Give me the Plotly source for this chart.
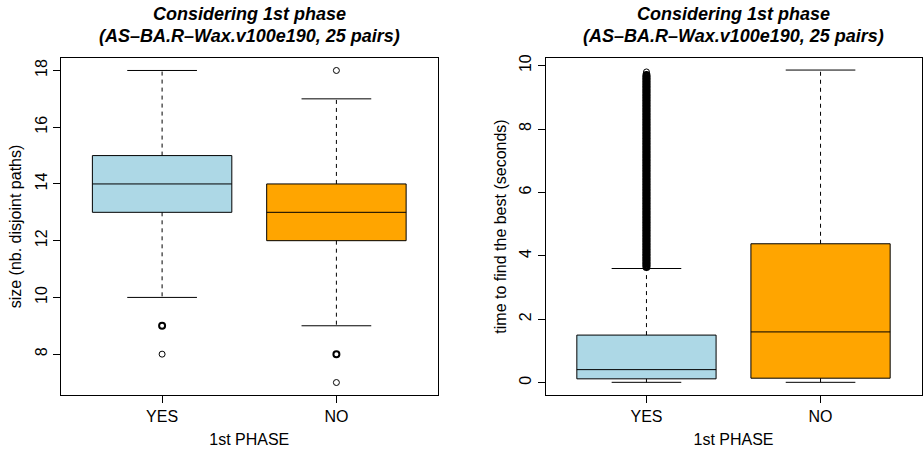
import plotly.graph_objects as go
from collections import Counter

# ---------------- data ----------------
categories = ["YES", "NO"]
positions = [1, 2]
colors = ["#ADD8E6", "#FFA500"]

# Left panel: size (nb. disjoint paths)
size_q1 = [13, 12]
size_median = [14, 13]
size_q3 = [15, 14]
size_low = [10, 9]
size_high = [18, 17]
size_out_yes = [9, 9, 9, 9, 8]
size_out_no = [18, 8, 8, 8, 8, 7]

# Right panel: time to find the best (seconds)
time_q1 = [0.12, 0.14]
time_median = [0.41, 1.60]
time_q3 = [1.50, 4.38]
time_low = [0.01, 0.01]
time_high = [3.60, 9.86]
time_out_yes = [3.65, 3.70, 3.75, 3.80, 3.85, 3.90, 3.95, 4.00, 4.05, 4.10, 4.15, 4.20,
                4.25, 4.30, 4.35, 4.40, 4.45, 4.50, 4.55, 4.60, 4.65, 4.70, 4.75, 4.80,
                4.85, 4.90, 4.95, 5.00, 5.05, 5.10, 5.15, 5.20, 5.25, 5.30, 5.35, 5.40,
                5.45, 5.50, 5.55, 5.60, 5.65, 5.70, 5.75, 5.80, 5.85, 5.90, 5.95, 6.00,
                6.05, 6.10, 6.15, 6.20, 6.25, 6.30, 6.35, 6.40, 6.45, 6.50, 6.55, 6.60,
                6.65, 6.70, 6.75, 6.80, 6.85, 6.90, 6.95, 7.00, 7.05, 7.10, 7.15, 7.20,
                7.25, 7.30, 7.35, 7.40, 7.45, 7.50, 7.55, 7.60, 7.65, 7.70, 7.75, 7.80,
                7.85, 7.90, 7.95, 8.00, 8.05, 8.10, 8.15, 8.20, 8.25, 8.30, 8.35, 8.40,
                8.45, 8.50, 8.55, 8.60, 8.65, 8.70, 8.75, 8.80, 8.85, 8.90, 8.95, 9.00,
                9.05, 9.10, 9.15, 9.20, 9.25, 9.30, 9.35, 9.40, 9.45, 9.50, 9.55, 9.60,
                9.65, 9.70, 9.80]
time_out_no = []

title_line1 = "Considering 1st phase"
title_line2 = "(AS\u2013BA.R\u2013Wax.v100e190, 25 pairs)"
x_title = "1st PHASE"
y_title_left = "size (nb. disjoint paths)"
y_title_right = "time to find the best (seconds)"
size_ticks = [8, 10, 12, 14, 16, 18]
time_ticks = [0, 2, 4, 6, 8, 10]

# ---------------- styling ----------------
FONT = "Liberation Sans, Arial, Helvetica, sans-serif"
BOX_W = 0.8
CAP_W = 0.4

fig = go.Figure()


def add_panel(xa, ya, q1, med, q3, low, high, outs, dense_gap):
    xref = "x" if xa == 1 else "x%d" % xa
    yref = "y" if ya == 1 else "y%d" % ya
    # dashed whiskers
    wx, wy = [], []
    cx, cy = [], []
    for p, a, b, lo, hi in zip(positions, q1, q3, low, high):
        wx += [p, p, None, p, p, None]
        wy += [b, hi, None, a, lo, None]
        cx += [p - CAP_W / 2, p + CAP_W / 2, None, p - CAP_W / 2, p + CAP_W / 2, None]
        cy += [hi, hi, None, lo, lo, None]
    fig.add_trace(go.Scatter(x=wx, y=wy, mode="lines", xaxis=xref, yaxis=yref,
                             line=dict(color="black", width=1, dash="4px,4px"),
                             hoverinfo="skip", showlegend=False))
    fig.add_trace(go.Scatter(x=cx, y=cy, mode="lines", xaxis=xref, yaxis=yref,
                             line=dict(color="black", width=1),
                             hoverinfo="skip", showlegend=False))
    # boxes
    for i, p in enumerate(positions):
        fig.add_trace(go.Box(x=[p], q1=[q1[i]], median=[med[i]], q3=[q3[i]],
                             lowerfence=[q1[i]], upperfence=[q3[i]],
                             width=BOX_W, whiskerwidth=0,
                             fillcolor=colors[i], line=dict(color="black", width=1),
                             boxpoints=False, xaxis=xref, yaxis=yref,
                             hoverinfo="skip", showlegend=False))
    # outliers (repeated / densely packed values drawn heavier, as overplotting does)
    for p, vals in zip(positions, outs):
        if not vals:
            continue
        cnt = Counter(vals)
        ys = sorted(cnt.keys())
        widths = []
        for j, v in enumerate(ys):
            near = [abs(v - ys[k]) for k in (j - 1, j + 1) if 0 <= k < len(ys)]
            dense = bool(near) and min(near) <= dense_gap
            widths.append(2.0 if (cnt[v] > 1 or dense) else 1.0)
        fig.add_trace(go.Scatter(x=[p] * len(ys), y=ys, mode="markers",
                                 xaxis=xref, yaxis=yref,
                                 marker=dict(symbol="circle-open", size=6, color="black",
                                             line=dict(width=widths, color="black")),
                                 hoverinfo="skip", showlegend=False))


add_panel(1, 1, size_q1, size_median, size_q3, size_low, size_high,
          [size_out_yes, size_out_no], 0.0)
add_panel(2, 2, time_q1, time_median, time_q3, time_low, time_high,
          [time_out_yes, time_out_no], 0.06)

W, H = 923, 450
x1_dom = [61 / W, 437.5 / W]
x2_dom = [545.5 / W, 921.5 / W]
y_dom = [(H - 395) / H, (H - 58) / H]

common_x = dict(range=[0.42, 2.58], tickvals=positions, ticktext=categories,
                ticks="outside", ticklen=7, tickcolor="black", showline=True,
                mirror=True, linecolor="black", linewidth=1, showgrid=False,
                zeroline=False, automargin=False,
                tickfont=dict(family=FONT, size=16, color="black"),
                title=dict(text=x_title, font=dict(family=FONT, size=16, color="black"),
                           standoff=9))
common_y = dict(ticks="outside", ticklen=7, tickcolor="black", showline=True,
                mirror=True, linecolor="black", linewidth=1, showgrid=False,
                zeroline=False, tickangle=-90, automargin=False,
                tickfont=dict(family=FONT, size=16, color="black"))

fig.update_layout(
    width=W, height=H, margin=dict(l=0, r=0, t=0, b=0),
    paper_bgcolor="white", plot_bgcolor="white", showlegend=False,
    xaxis=dict(domain=x1_dom, anchor="y", **common_x),
    xaxis2=dict(domain=x2_dom, anchor="y2", **common_x),
    yaxis=dict(domain=y_dom, anchor="x", range=[6.56, 18.44], tickvals=size_ticks,
               title=dict(text=y_title_left, font=dict(family=FONT, size=16, color="black"),
                          standoff=6), **common_y),
    yaxis2=dict(domain=y_dom, anchor="x2", range=[-0.39, 10.24], tickvals=time_ticks,
                title=dict(text=y_title_right, font=dict(family=FONT, size=16, color="black"),
                           standoff=6), **common_y),
)

tfont = dict(family=FONT, size=18, color="black")
for dom in (x1_dom, x2_dom):
    cxp = (dom[0] + dom[1]) / 2
    fig.add_annotation(x=cxp, y=1 - 14 / H, xref="paper", yref="paper",
                       text="<b><i>%s</i></b>" % title_line1, showarrow=False,
                       font=tfont, xanchor="center", yanchor="middle")
    fig.add_annotation(x=cxp, y=1 - 36 / H, xref="paper", yref="paper",
                       text="<b><i>%s</i></b>" % title_line2, showarrow=False,
                       font=tfont, xanchor="center", yanchor="middle")

fig.write_html("out.html", config={"displayModeBar": False},
               post_script="document.body.style.margin='0';document.body.style.overflow='hidden';")
